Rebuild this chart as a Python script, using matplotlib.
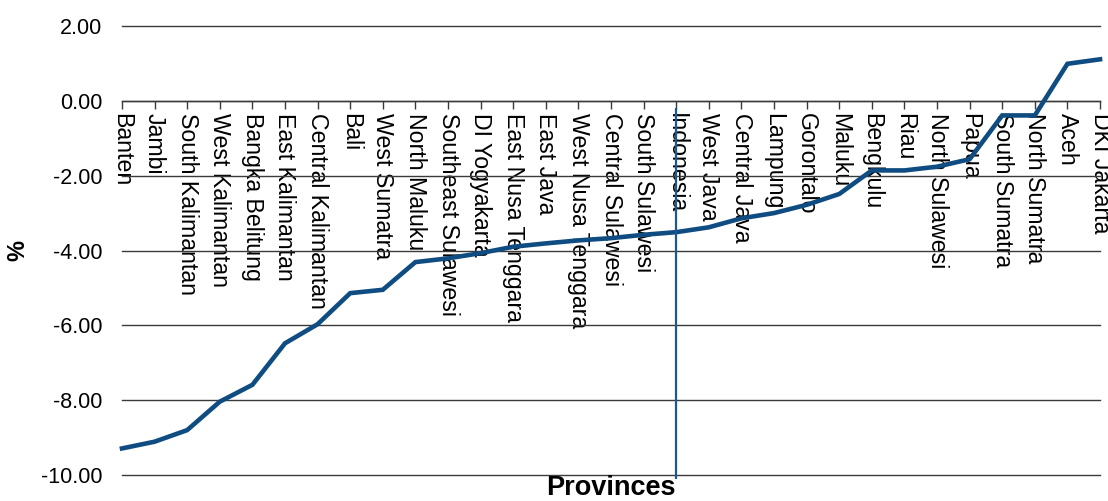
import numpy as np
import matplotlib
matplotlib.use("Agg")
import matplotlib.pyplot as plt

###############################################
########### [Datos] ###########################
###############################################
provincias = ["Banten", "Jambi", "South Kalimantan", "West Kalimantan",
              "Bangka Belitung", "East Kalimantan", "Central Kalimantan",
              "Bali", "West Sumatra", "North Maluku", "Southeast Sulawesi",
              "DI Yogyakarta", "East Nusa Tenggara", "East Java",
              "West Nusa Tenggara", "Central Sulawesi", "South Sulawesi",
              "Indonesia", "West Java", "Central Java", "Lampung",
              "Gorontalo", "Maluku", "Bengkulu", "Riau", "North Sulawesi",
              "Papua", "South Sumatra", "North Sumatra", "Aceh",
              "DKI Jakarta"]
valores = [-9.29, -9.11, -8.80, -8.04, -7.59, -6.48, -5.97, -5.14, -5.05,
           -4.31, -4.21, -4.07, -3.90, -3.81, -3.73, -3.67, -3.58, -3.51,
           -3.38, -3.14, -3.00, -2.78, -2.49, -1.86, -1.86, -1.76, -1.56,
           -0.39, -0.39, 0.99, 1.11]
marca = "Indonesia"
y_ticks = [2, 0, -2, -4, -6, -8, -10]

###############################################
########### [Estilo] ##########################
###############################################
plt.rcParams['font.family'] = ['Liberation Sans', 'DejaVu Sans']
azul = '#0f4c81'
gris = '#3a3a3a'

fig = plt.figure(figsize=(11.08, 5.01), dpi=100)
ax = fig.add_axes([0.1101, 0.0519, 0.8827, 0.8962])

x = np.arange(len(provincias))

# el eje x va sobre y=0 (antes de poner etiquetas, reinicia los ticks)
for s in ['left', 'right', 'top']:
    ax.spines[s].set_visible(False)
ax.spines['bottom'].set_position(('data', 0))
ax.spines['bottom'].set_color(gris)
ax.spines['bottom'].set_linewidth(1)

####### {{{ Linea principal }}} ##################
ax.plot(x, valores, color=azul, lw=3.3, solid_joinstyle='miter',
        clip_on=False, zorder=4)

####### {{{ Linea vertical Indonesia }}} #########
i_ind = provincias.index(marca)
ax.vlines(x[i_ind], -10.1, -0.2, color='#1a5a94', lw=1.6, zorder=4,
          clip_on=False)

####### {{{ Ejes }}} #############################
ax.set_xlim(0, len(provincias) - 1)
ax.set_ylim(-10, 2)
ax.set_yticks(y_ticks)
ax.set_yticklabels(["%.2f" % v for v in y_ticks], fontsize=15.5)
ax.tick_params(axis='y', length=0, pad=14)

ax.set_xticks(x)
ax.set_xticklabels(provincias, rotation=-90, fontsize=16.7,
                   ha='center', va='top')
ax.tick_params(axis='x', direction='out', length=6, width=1, color=gris,
               pad=3)

ax.yaxis.grid(True, color=gris, lw=1)
ax.set_axisbelow(True)
for g in ax.get_ygridlines():
    g.set_clip_on(False)

fig.text(0.016, 0.5, "%", rotation=90, fontsize=17, fontweight='bold',
         ha='center', va='center')
fig.text(0.5515, 0.025, "Provinces", fontsize=19.5, fontweight='bold',
         ha='center', va='center')

fig.savefig("out.png", dpi=100)
